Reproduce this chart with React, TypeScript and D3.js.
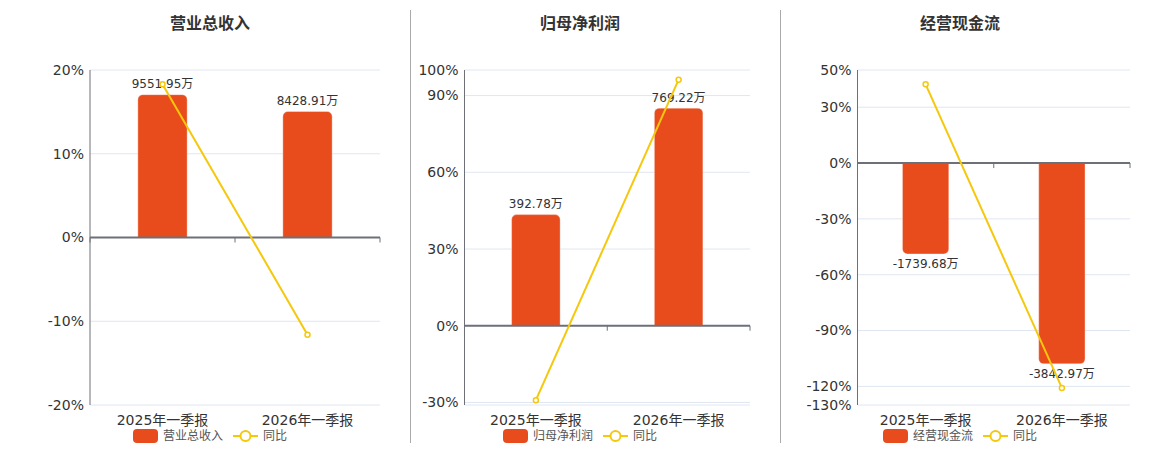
import React from 'react';
import * as d3 from 'd3';

const categories = ['2025年一季报', '2026年一季报'];
const titles = ['营业总收入', '归母净利润', '经营现金流'];
const lineName = '同比';

const revenueValues = [9551.95, 8428.91];
const revenueYoY = [18.3, -11.6];
const profitValues = [392.78, 769.22];
const profitYoY = [-29.1, 96.2];
const cashValues = [-1739.68, -3842.97];
const cashYoY = [42.3, -120.8];

const revenueTicks = [-20, -10, 0, 10, 20];
const profitTicks = [-30, 0, 30, 60, 90, 100];
const cashTicks = [-130, -120, -90, -60, -30, 0, 30, 50];

const revenueYoYDomain = [-20, 20];
const profitYoYDomain = [-31, 100];
const cashYoYDomain = [-130, 50];

const revenueBarDomain = [-11200, 11200];
const profitBarDomain = [-280.2, 904];
const cashBarDomain = [-4630, 1781];

const BAR_COLOR = '#E94C1C';
const LINE_COLOR = '#F5C80C';
const AXIS_COLOR = '#6E7079';
const GRID_COLOR = '#E0E6F1';
const FONT = '"DejaVu Sans", "Noto Sans CJK SC", sans-serif';

interface PanelDef {
  title: string;
  values: number[];
  yoy: number[];
  ticks: number[];
  yoyDomain: number[];
  barDomain: number[];
  x0: number;
  x1: number;
  cx: number;
}

const panels: PanelDef[] = [
  { title: titles[0], values: revenueValues, yoy: revenueYoY, ticks: revenueTicks, yoyDomain: revenueYoYDomain, barDomain: revenueBarDomain, x0: 90, x1: 380, cx: 210 },
  { title: titles[1], values: profitValues, yoy: profitYoY, ticks: profitTicks, yoyDomain: profitYoYDomain, barDomain: profitBarDomain, x0: 464.5, x1: 750, cx: 580 },
  { title: titles[2], values: cashValues, yoy: cashYoY, ticks: cashTicks, yoyDomain: cashYoYDomain, barDomain: cashBarDomain, x0: 857.5, x1: 1130, cx: 960 },
];

const TOP = 70;
const BOTTOM = 405;

function barPath(x: number, w: number, y0: number, y1: number, r: number): string {
  // y0 = zero baseline, y1 = value end (rounded end)
  const p = d3.path();
  const h = Math.abs(y1 - y0);
  const rr = Math.min(r, h / 2, w / 2);
  if (y1 < y0) {
    p.moveTo(x, y0);
    p.lineTo(x, y1 + rr);
    p.arcTo(x, y1, x + rr, y1, rr);
    p.lineTo(x + w - rr, y1);
    p.arcTo(x + w, y1, x + w, y1 + rr, rr);
    p.lineTo(x + w, y0);
    p.closePath();
  } else {
    p.moveTo(x, y0);
    p.lineTo(x, y1 - rr);
    p.arcTo(x, y1, x + rr, y1, rr);
    p.lineTo(x + w - rr, y1);
    p.arcTo(x + w, y1, x + w, y1 - rr, rr);
    p.lineTo(x + w, y0);
    p.closePath();
  }
  return p.toString();
}

function Panel({ def }: { def: PanelDef }) {
  const xBand = d3.scaleBand<string>().domain(categories).range([def.x0, def.x1]).padding(0);
  const yLine = d3.scaleLinear().domain(def.yoyDomain).range([BOTTOM, TOP]);
  const yBar = d3.scaleLinear().domain(def.barDomain).range([BOTTOM, TOP]);
  const zeroY = yLine(0);
  const bw = xBand.bandwidth() * 0.34;
  const lineGen = d3.line<number>()
    .x((_, i) => (xBand(categories[i]) as number) + xBand.bandwidth() / 2)
    .y((d) => yLine(d));
  const gridVals = Array.from(new Set([...def.ticks, def.yoyDomain[0], def.yoyDomain[1]]));
  const legendStart = def.cx - 77;

  return (
    <g>
      <text x={def.cx} y={29} textAnchor="middle" fontSize={16} fontWeight="bold" fill="#333" fontFamily={FONT}>{def.title}</text>
      {gridVals.map((t) => (
        <line key={'g' + t} x1={def.x0} x2={def.x1} y1={yLine(t)} y2={yLine(t)} stroke={GRID_COLOR} strokeWidth={1} />
      ))}
      {def.ticks.map((t) => (
        <text key={'t' + t} x={def.x0 - 6} y={yLine(t)} dy="0.35em" textAnchor="end" fontSize={14} fill="#333" fontFamily={FONT}>{t}%</text>
      ))}
      <line x1={def.x0} x2={def.x0} y1={TOP} y2={BOTTOM} stroke={AXIS_COLOR} strokeWidth={1} />
      {def.values.map((v, i) => {
        const bx = (xBand(categories[i]) as number) + (xBand.bandwidth() - bw) / 2;
        const y1 = yBar(v);
        const y0 = yBar(0);
        const labelY = v >= 0 ? y1 - 6.5 : y1 + 14;
        return (
          <g key={'b' + i}>
            <path d={barPath(bx, bw, y0, y1, 5)} fill={BAR_COLOR} stroke="rgba(255,255,255,0.35)" strokeWidth={1} />
            <text x={bx + bw / 2} y={labelY} textAnchor="middle" fontSize={12} fill="#333" fontFamily={FONT}>{v.toFixed(2)}万</text>
          </g>
        );
      })}
      <line x1={def.x0} x2={def.x1} y1={zeroY} y2={zeroY} stroke={AXIS_COLOR} strokeWidth={2} />
      {[...categories.map((c) => xBand(c) as number), def.x1].map((tx, i) => (
        <line key={'k' + i} x1={tx} x2={tx} y1={zeroY} y2={zeroY + 5} stroke={AXIS_COLOR} strokeWidth={1} />
      ))}
      {categories.map((c) => (
        <text key={'c' + c} x={(xBand(c) as number) + xBand.bandwidth() / 2} y={425} textAnchor="middle" fontSize={14} fill="#333" fontFamily={FONT}>{c}</text>
      ))}
      <path d={lineGen(def.yoy) || ''} fill="none" stroke={LINE_COLOR} strokeWidth={2} />
      {def.yoy.map((v, i) => (
        <circle key={'p' + i} cx={(xBand(categories[i]) as number) + xBand.bandwidth() / 2} cy={yLine(v)} r={2.5} fill="#fff" stroke={LINE_COLOR} strokeWidth={1.5} />
      ))}
      <g>
        <rect x={legendStart} y={429} width={25} height={14} rx={4} fill={BAR_COLOR} />
        <text x={legendStart + 30} y={436} dy="0.35em" fontSize={12} fill="#555" fontFamily={FONT}>{def.title}</text>
        <line x1={legendStart + 100} x2={legendStart + 125} y1={436} y2={436} stroke={LINE_COLOR} strokeWidth={2} />
        <circle cx={legendStart + 112.5} cy={436} r={5} fill="#fff" stroke={LINE_COLOR} strokeWidth={2} />
        <text x={legendStart + 130} y={436} dy="0.35em" fontSize={12} fill="#555" fontFamily={FONT}>{lineName}</text>
      </g>
    </g>
  );
}

export default function App() {
  return (
    <svg width={1160} height={450} style={{ position: 'absolute', left: 0, top: 0, background: '#fff' }}>
      <line x1={410.5} x2={410.5} y1={10} y2={443} stroke="#aaa" strokeWidth={1} />
      <line x1={780.5} x2={780.5} y1={10} y2={443} stroke="#aaa" strokeWidth={1} />
      {panels.map((p) => (
        <Panel key={p.title} def={p} />
      ))}
    </svg>
  );
}
